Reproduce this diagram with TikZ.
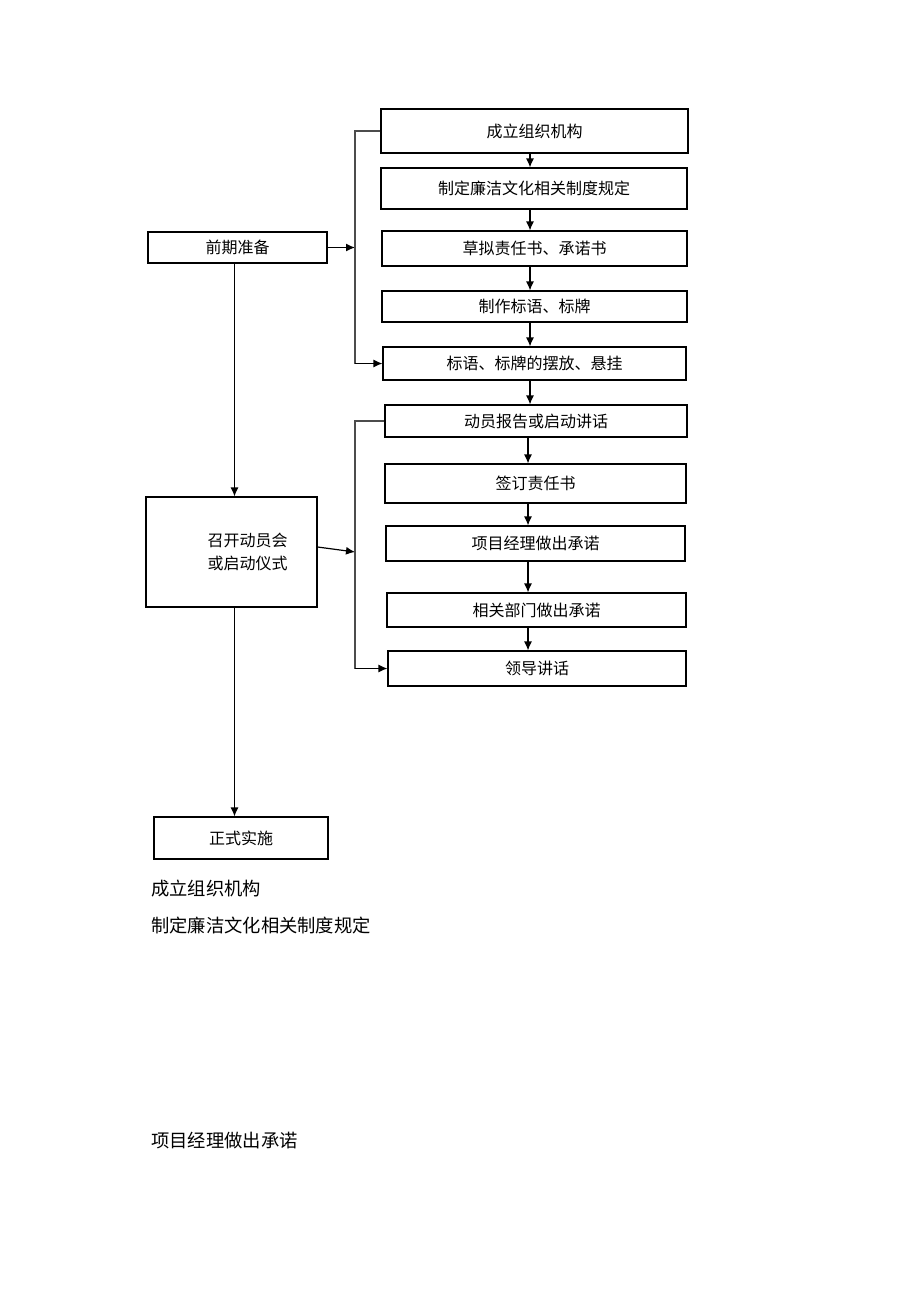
\documentclass[tikz,border=0pt]{standalone}
\usepackage{fontspec}
\newfontfamily\cjk{Noto Sans CJK SC}
\usetikzlibrary{arrows.meta}
\tikzset{>=stealth}

\begin{document}
\begin{tikzpicture}[x=1pt,y=-1pt,
    box/.style={draw,line width=1.1pt,inner sep=0pt,font=\cjk\fontsize{16}{19}\selectfont},
    arr/.style={-{Latex[length=9pt,width=8pt]},line width=1.2pt},
    rail/.style={draw=black!70,line width=1.2pt},
    plain/.style={anchor=west,inner sep=0pt,font=\cjk\fontsize{18.3}{22}\selectfont}]
  \useasboundingbox (0,0) rectangle (920,1302);
  \coordinate (trunk) at (234.5,0);
  \coordinate (railA) at (355,0);
  \coordinate (railB) at (355,0);
  \coordinate (axisA) at (530,0);
  \coordinate (axisB) at (528,0);
  % left column
  \node[box,minimum width=179pt,minimum height=31pt] (prep) at (237.5,247.5) {前期准备};
  \node[box,minimum width=171pt,minimum height=110pt] (meet) at (231.5,552) {};
  \node[font=\cjk\fontsize{16}{23}\selectfont,align=center] at ([xshift=16pt]meet.center) {召开动员会\\或启动仪式};
  \node[box,minimum width=174pt,minimum height=42pt] (start) at (241,838) {正式实施};
  % first chain
  \node[box,minimum width=307pt,minimum height=44pt] (org) at (534.5,131) {成立组织机构};
  \node[box,minimum width=306pt,minimum height=41pt] (rule) at (534,188.5) {制定廉洁文化相关制度规定};
  \node[box,minimum width=305pt,minimum height=35pt] (draft) at (534.5,248.5) {草拟责任书、承诺书};
  \node[box,minimum width=305pt,minimum height=31pt] (sign) at (534.5,306.5) {制作标语、标牌};
  \node[box,minimum width=303pt,minimum height=33pt] (hang) at (534.5,363.5) {标语、标牌的摆放、悬挂};
  % second chain
  \node[box,minimum width=302pt,minimum height=32pt] (talk) at (536,421) {动员报告或启动讲话};
  \node[box,minimum width=301pt,minimum height=39pt] (pact) at (535.5,483.5) {签订责任书};
  \node[box,minimum width=299pt,minimum height=35pt] (pm) at (535.5,543.5) {项目经理做出承诺};
  \node[box,minimum width=299pt,minimum height=34pt] (dept) at (536.5,610) {相关部门做出承诺};
  \node[box,minimum width=298pt,minimum height=35pt] (lead) at (537,668.5) {领导讲话};
  % text below
  \node[plain] (t1) at (151,889) {成立组织机构};
  \node[plain] (t2) at (151,926) {制定廉洁文化相关制度规定};
  \node[plain] (t3) at (151,1141) {项目经理做出承诺};

  \draw[arr] (prep.south -| trunk) -- (meet.north -| trunk);
  \draw[arr] (meet.south -| trunk) -- (start.north -| trunk);
  \draw[arr] (prep.east) -- (prep.east -| railA);
  \draw[arr] ([yshift=5pt]meet.east) -- (meet.east -| railB);
  \draw[rail] (org.west) -- (org.west -| railA) -- (hang.west -| railA);
  \draw[arr] (hang.west -| railA) -- (hang.west);
  \draw[rail] (talk.west) -- (talk.west -| railB) -- (lead.west -| railB);
  \draw[arr] (lead.west -| railB) -- (lead.west);
  \draw[arr] (org.south -| axisA) -- (rule.north -| axisA);
  \draw[arr] (rule.south -| axisA) -- (draft.north -| axisA);
  \draw[arr] (draft.south -| axisA) -- (sign.north -| axisA);
  \draw[arr] (sign.south -| axisA) -- (hang.north -| axisA);
  \draw[arr] (hang.south -| axisA) -- (talk.north -| axisA);
  \draw[arr] (talk.south -| axisB) -- (pact.north -| axisB);
  \draw[arr] (pact.south -| axisB) -- (pm.north -| axisB);
  \draw[arr] (pm.south -| axisB) -- (dept.north -| axisB);
  \draw[arr] (dept.south -| axisB) -- (lead.north -| axisB);
\end{tikzpicture}
\end{document}
